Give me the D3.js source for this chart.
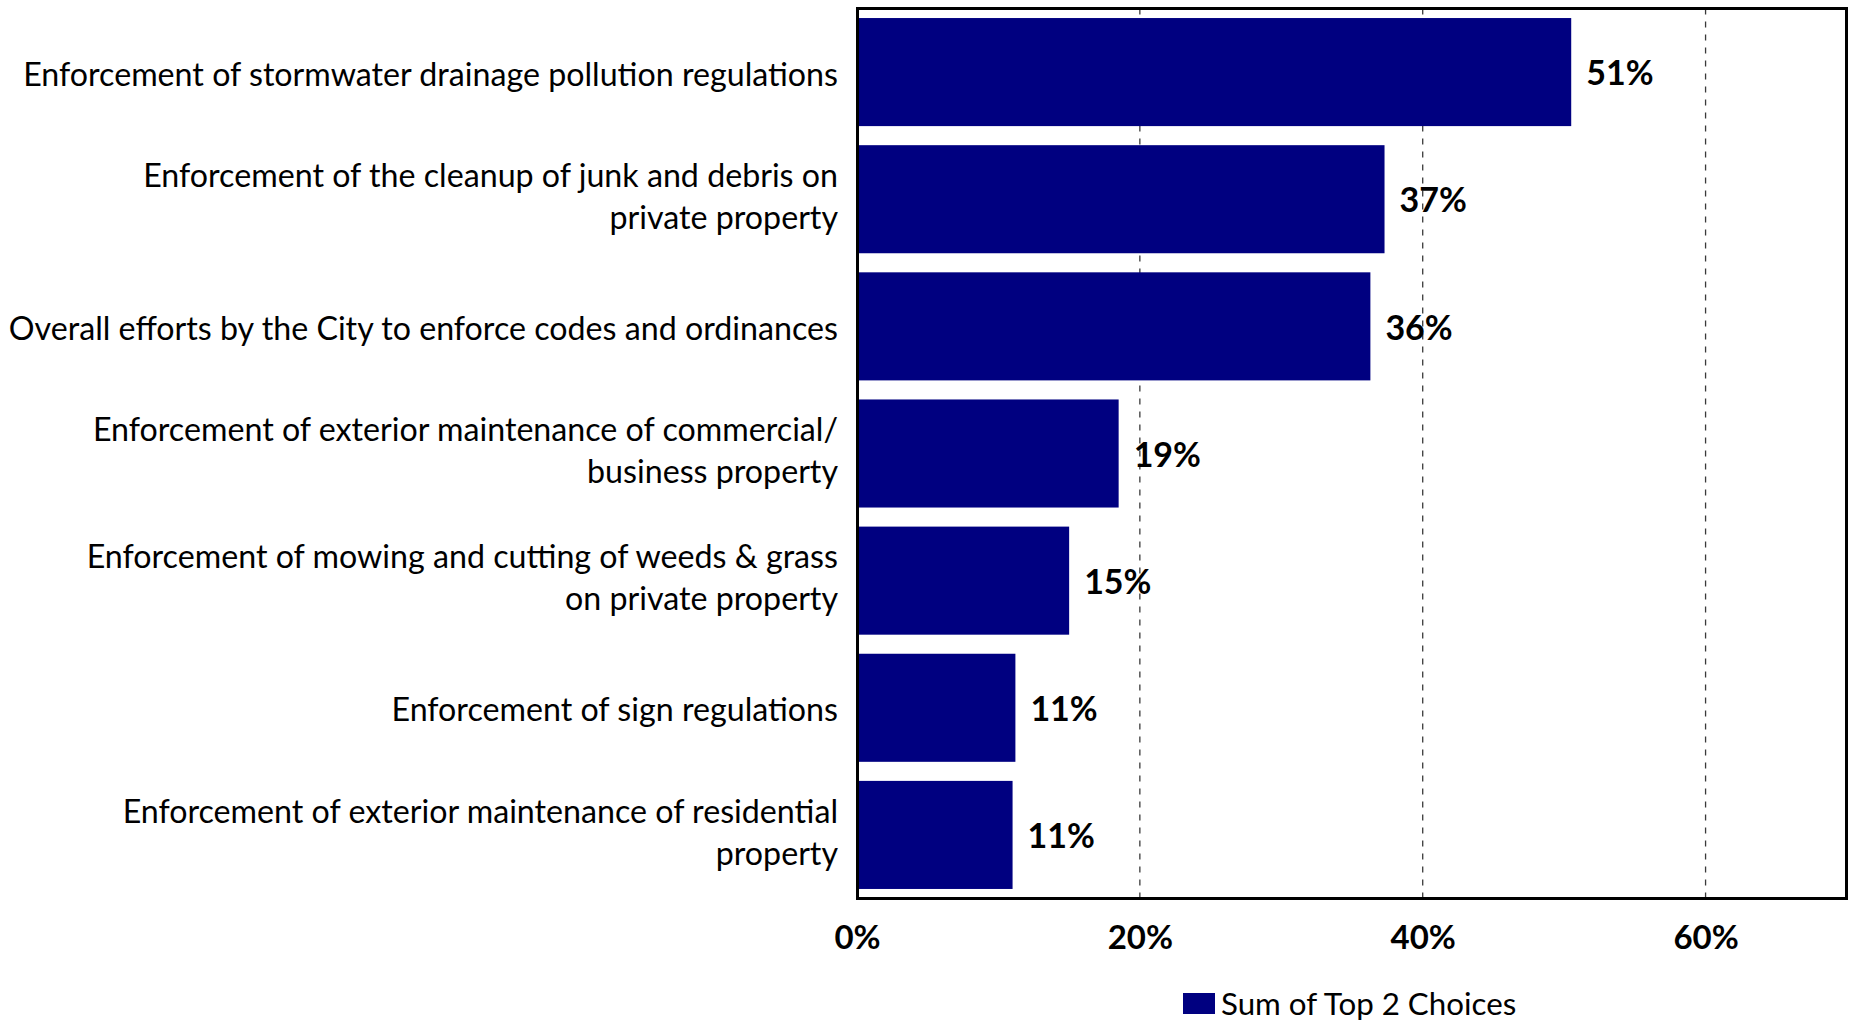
<!DOCTYPE html>
<html>
<head>
<meta charset="utf-8">
<script src="https://cdn.jsdelivr.net/npm/d3@7/dist/d3.min.js"></script>
<style>
  html, body { margin: 0; padding: 0; background: #ffffff; }
  svg { display: block; }
  text { font-family: Lato, "Open Sans", sans-serif; fill: #000; }
</style>
</head>
<body>
<svg id="chart" width="1853" height="1021"></svg>
<script>
// Survey items (one line per array entry after splitting on "\n")
const categories = [
  "Enforcement of stormwater drainage pollution regulations",
  "Enforcement of the cleanup of junk and debris on\nprivate property",
  "Overall efforts by the City to enforce codes and ordinances",
  "Enforcement of exterior maintenance of commercial/\nbusiness property",
  "Enforcement of mowing and cutting of weeds & grass\non private property",
  "Enforcement of sign regulations",
  "Enforcement of exterior maintenance of residential\nproperty"
];

// Share of respondents choosing the item as one of their top two
const sumTop2 = [0.505, 0.373, 0.363, 0.185, 0.150, 0.112, 0.110];

const tickValues = [0, 0.2, 0.4, 0.6];
const tickLabels = ["0%", "20%", "40%", "60%"];
const seriesName = "Sum of Top 2 Choices";

const barColor = "#000080";

const svg = d3.select("#chart");

const plot = { left: 857, right: 1847, top: 8.5, bottom: 898.5 };

const x = d3.scaleLinear()
  .domain([0, 0.7])
  .range([plot.left, plot.right]);

const y = d3.scaleBand()
  .domain(categories)
  .range([plot.top, plot.bottom])
  .paddingInner(0.15)
  .paddingOuter(0.075);

// dashed vertical gridlines
svg.append("g")
  .selectAll("line")
  .data(tickValues.slice(1))
  .join("line")
  .attr("x1", d => x(d)).attr("x2", d => x(d))
  .attr("y1", plot.top).attr("y2", plot.bottom)
  .attr("stroke", "#3a3a3a")
  .attr("stroke-width", 1.3)
  .attr("stroke-dasharray", "6,7");

// bars
svg.append("g")
  .selectAll("rect")
  .data(categories)
  .join("rect")
  .attr("x", x(0))
  .attr("y", d => y(d))
  .attr("width", (d, i) => x(sumTop2[i]) - x(0))
  .attr("height", y.bandwidth())
  .attr("fill", barColor);

// value labels
svg.append("g")
  .selectAll("text")
  .data(categories)
  .join("text")
  .attr("x", (d, i) => x(sumTop2[i]) + 15)
  .attr("y", d => y(d) + y.bandwidth() / 2)
  .attr("dy", "0.39em")
  .attr("font-size", 34)
  .attr("font-weight", 700)
  .text((d, i) => Math.round(sumTop2[i] * 100 + 1e-6) + "%");

// plot frame
svg.append("rect")
  .attr("x", plot.left + 0.5)
  .attr("y", plot.top)
  .attr("width", plot.right - plot.left - 1)
  .attr("height", plot.bottom - plot.top)
  .attr("fill", "none")
  .attr("stroke", "#000")
  .attr("stroke-width", 3);

// category labels, right-aligned against the frame
const lineGap = 42;
const catLabels = svg.append("g")
  .selectAll("text")
  .data(categories)
  .join("text")
  .attr("text-anchor", "end")
  .attr("font-size", 32.2)
  .attr("transform", d => `translate(838, ${y(d) + y.bandwidth() / 2})`);

catLabels.each(function (d) {
  const lines = d.split("\n");
  const n = lines.length;
  const shift = n > 1 ? -3 : 2;
  d3.select(this).selectAll("tspan")
    .data(lines)
    .join("tspan")
    .attr("x", 0)
    .attr("y", (l, i) => (i - (n - 1) / 2) * lineGap + shift)
    .attr("dy", "0.36em")
    .text(l => l);
});

// x axis tick labels
const axis = d3.axisBottom(x)
  .tickValues(tickValues)
  .tickSize(0)
  .tickFormat((d, i) => tickLabels[i]);

const axisG = svg.append("g")
  .attr("transform", `translate(0, ${plot.bottom})`)
  .call(axis);
axisG.select(".domain").remove();
axisG.selectAll("text")
  .attr("y", 50.5)
  .attr("dy", 0)
  .attr("font-size", 33)
  .attr("font-weight", 700)
  .attr("font-family", "Lato, 'Open Sans', sans-serif")
  .attr("fill", "#000");

// legend
const legend = svg.append("g").attr("transform", "translate(1183, 993)");
legend.append("rect")
  .attr("width", 32).attr("height", 21)
  .attr("fill", barColor);
legend.append("text")
  .attr("x", 38)
  .attr("y", 21.5)
  .attr("font-size", 31.3)
  .text(seriesName);
</script>
</body>
</html>
